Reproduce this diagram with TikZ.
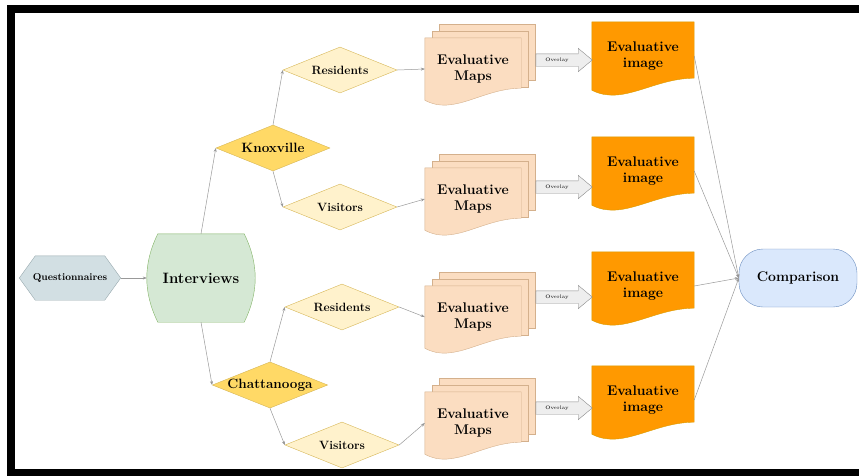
\documentclass[tikz,border=0pt]{standalone}
\usetikzlibrary{shapes.geometric,arrows.meta,calc,backgrounds}

\definecolor{qfill}{HTML}{D2DFE3}
\definecolor{qline}{HTML}{98A9AE}
\definecolor{ivfill}{HTML}{D5E8D4}
\definecolor{ivline}{HTML}{82B366}
\definecolor{cityfill}{HTML}{FFD966}
\definecolor{cityline}{HTML}{D6B656}
\definecolor{grpfill}{HTML}{FFF2CC}
\definecolor{mapfill}{HTML}{FBDDC1}
\definecolor{mapline}{HTML}{D4B08C}
\definecolor{imgfill}{HTML}{FF9900}
\definecolor{imgline}{HTML}{D79B00}
\definecolor{cmpfill}{HTML}{DAE8FC}
\definecolor{cmpline}{HTML}{6C8EBF}
\definecolor{ovfill}{HTML}{EEEEEE}
\definecolor{ovline}{HTML}{8A8A8A}

\newcommand{\fs}[1]{\fontsize{#1}{1.1\dimexpr#1pt\relax}\selectfont\bfseries}
% document outline from the anchors of a node
\newcommand{\docpath}[1]{(#1.north west) -- (#1.north east) -- ([yshift=12pt]#1.south east)
	.. controls ($(#1.south west)!0.6!(#1.south east)+(0pt,12pt)$) and ($(#1.south west)!0.3!(#1.south east)+(0pt,-16pt)$) .. (#1.south west) -- cycle}

\tikzset{
	link/.style={draw=black!40,line width=0.5pt,-{Stealth[length=4pt,width=3pt,fill=black!60]}},
	hexa/.style={minimum width=101pt,minimum height=44pt,inner sep=1pt,font=\fs{10}},
	interv/.style={minimum width=108pt,minimum height=88pt,font=\fs{15}},
	city/.style={diamond,aspect=2.5,fill=cityfill,draw=cityline,minimum width=114pt,minimum height=46pt,
		inner sep=0pt,font=\fs{13.5}},
	group/.style={city,fill=grpfill,font=\fs{12}},
	mapdoc/.style={minimum width=96pt,minimum height=62pt,align=center,font=\fs{14}},
	imgdoc/.style={minimum width=102pt,minimum height=68pt,align=center,font=\fs{14}},
	ovarrow/.style={minimum width=42pt,minimum height=12pt,inner sep=0pt,font=\fontsize{5}{6}\selectfont},
	cmpbox/.style={rectangle,rounded corners=24pt,fill=cmpfill,draw=cmpline,
		minimum width=118pt,minimum height=58pt,font=\fs{14}},
}

\begin{document}
\begin{tikzpicture}[x=1pt,y=-1pt]
	\useasboundingbox (0,0) rectangle (859,475);
	\draw[line width=8pt] (870,9) -- (11,9) -- (11,473) -- (870,473);
	
	\node[hexa] (qn) at (70,278) {Questionnaires};
	\node[interv] (iv) at (201,278) {Interviews};
	\node[city] (kx) at (273,148) {Knoxville};
	\node[city] (ch) at (270,385) {Chattanooga};
	\node[group] (r1) at (340,70) {Residents};
	\node[group] (v1) at (340,207) {Visitors};
	\node[group] (r2) at (342,307) {Residents};
	\node[group] (v2) at (342,445) {Visitors};
	\node[cmpbox] (cmp) at (798,278) {Comparison};
	
	\foreach \n/\ym/\yo/\ye in {1/69/60/56,2/199/187/171,3/317/297/286,4/423/408/400} {
		\node[mapdoc] (m\n) at (473,\ym) {Evaluative\\Maps};
		\node[ovarrow] (o\n) at (557,\yo) {Overlay};
		\node[imgdoc] (e\n) at (643,\ye) {Evaluative\\image};
	}
	
	\begin{scope}[on background layer]
		\filldraw[fill=qfill,draw=qline] (qn.west) -- ([xshift=16pt]qn.north west) -- ([xshift=-16pt]qn.north east)
			-- (qn.east) -- ([xshift=-16pt]qn.south east) -- ([xshift=16pt]qn.south west) -- cycle;
		\filldraw[fill=ivfill,draw=ivline] ([xshift=11pt]iv.north west) -- ([xshift=-11pt]iv.north east)
			.. controls ([xshift=3.7pt,yshift=-30pt]iv.north east) and ([xshift=3.7pt,yshift=30pt]iv.south east) .. ([xshift=-11pt]iv.south east)
			-- ([xshift=11pt]iv.south west)
			.. controls ([xshift=-3.7pt,yshift=30pt]iv.south west) and ([xshift=-3.7pt,yshift=-30pt]iv.north west) .. cycle;
		\foreach \n in {1,2,3,4} {
			\foreach \s in {14,7}
			\filldraw[fill=mapfill,draw=mapline] ([xshift=\s pt,yshift=\s pt]m\n.north west) rectangle ([xshift=\s pt,yshift=\s pt+6pt]m\n.south east);
			\filldraw[fill=mapfill,draw=mapline] \docpath{m\n};
			\filldraw[fill=imgfill,draw=imgline] \docpath{e\n};
			\filldraw[fill=ovfill,draw=ovline] (o\n.north west) -- (o\n.north east) -- ([yshift=5.5pt]o\n.north east)
				-- ([xshift=14pt]o\n.east) -- ([yshift=-5.5pt]o\n.south east) -- (o\n.south east) -- (o\n.south west) -- cycle;
		}
	\end{scope}
	
	\draw[link] (qn.east) -- (iv.west);
	\draw[link] (iv.north) -- (kx.west);
	\draw[link] (iv.south) -- (ch.west);
	\draw[link] (kx.north) -- (r1.west);
	\draw[link] (kx.south) -- (v1.west);
	\draw[link] (ch.north) -- (r2.west);
	\draw[link] (ch.south) -- (v2.west);
	\foreach \a/\b in {r1/m1,v1/m2,r2/m3,v2/m4}
	\draw[link] (\a.east) -- (\b.west);
	\foreach \n in {1,2,3,4}
	\draw[link] (e\n.east) -- (cmp.west);
\end{tikzpicture}
\end{document}
